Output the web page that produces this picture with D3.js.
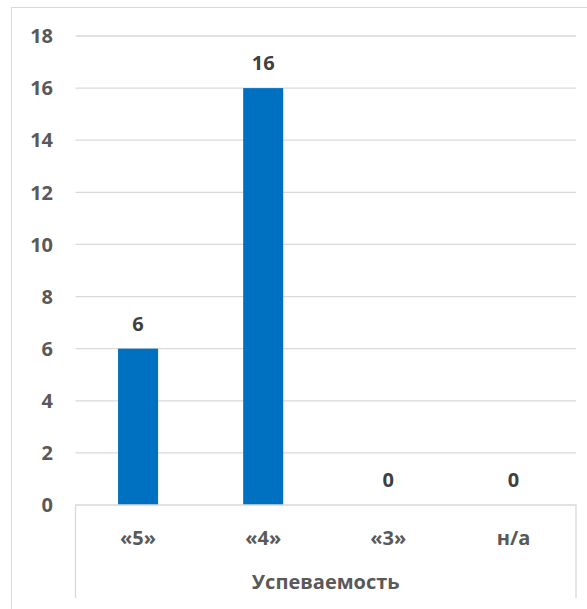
<!DOCTYPE html>
<html>
<head>
<meta charset="utf-8">
<script src="https://cdn.jsdelivr.net/npm/d3@7"></script>
<style>
  body { margin: 0; background: #fff; }
  svg text { font-family: "Open Sans", sans-serif; font-weight: bold; }
</style>
</head>
<body>
<div id="canvas"><svg></svg></div>
<script>
var categories = ["«5»", "«4»", "«3»", "н/а"];
var values = [6, 16, 0, 0];
var yTicks = [0, 2, 4, 6, 8, 10, 12, 14, 16, 18];
var groupLabel = "Успеваемость";

var width = 587,
    height = 609,
    plotLeft = 75.5,
    plotRight = 576,
    plotTop = 36,
    plotBottom = 505;

var svg = d3.select("#canvas svg")
    .attr("width", width)
    .attr("height", height);

// chart frame (runs off the window on the right and bottom)
svg.append("rect")
    .attr("x", 11.5).attr("y", 7.5)
    .attr("width", 600).attr("height", 620)
    .attr("fill", "#fff")
    .attr("stroke", "#d9d9d9");

var x = d3.scaleBand().domain(categories).range([plotLeft, plotRight]).paddingInner(0.68).paddingOuter(0.34);
var y = d3.scaleLinear().domain([0, 18]).range([plotBottom, plotTop]);

// gridlines
svg.selectAll(".grid")
    .data(yTicks.filter(function (d) {return d > 0;}))
    .enter().append("line")
    .attr("class", "grid")
    .attr("x1", plotLeft).attr("x2", plotRight)
    .attr("y1", function (d) {return y(d);})
    .attr("y2", function (d) {return y(d);})
    .attr("stroke", "#d9d9d9")
    .attr("stroke-width", 1.3);

// y labels
svg.selectAll(".ylab")
    .data(yTicks)
    .enter().append("text")
    .attr("class", "ylab")
    .attr("x", 53)
    .attr("y", function (d) {return y(d);})
    .attr("dy", "0.36em")
    .attr("text-anchor", "end")
    .attr("font-size", 20)
    .attr("fill", "#595959")
    .text(function (d) {return d;});

// bars
svg.selectAll(".bar")
    .data(values)
    .enter().append("rect")
    .attr("class", "bar")
    .attr("x", function (d, i) {return x(categories[i]);})
    .attr("width", x.bandwidth())
    .attr("y", function (d) {return y(d);})
    .attr("height", function (d) {return y(0) - y(d);})
    .attr("fill", "#0070c0");

// data labels
svg.selectAll(".vlab")
    .data(values)
    .enter().append("text")
    .attr("class", "vlab")
    .attr("x", function (d, i) {return x(categories[i]) + x.bandwidth() / 2;})
    .attr("y", function (d) {return y(d) - 18;})
    .attr("text-anchor", "middle")
    .attr("font-size", 20)
    .attr("fill", "#404040")
    .text(function (d) {return d;});

// multi-level category axis
var axisBottom = 598;
svg.append("path")
    .attr("d", "M" + plotLeft + "," + axisBottom + "V" + plotBottom + "H" + plotRight + "V" + axisBottom)
    .attr("fill", "none")
    .attr("stroke", "#d9d9d9")
    .attr("stroke-width", 1.3);

svg.selectAll(".xlab")
    .data(categories)
    .enter().append("text")
    .attr("class", "xlab")
    .attr("x", function (d) {return x(d) + x.bandwidth() / 2;})
    .attr("y", 545)
    .attr("text-anchor", "middle")
    .attr("font-size", 20)
    .attr("fill", "#595959")
    .text(function (d) {return d;});

svg.append("text")
    .attr("x", (plotLeft + plotRight) / 2)
    .attr("y", 589)
    .attr("text-anchor", "middle")
    .attr("font-size", 20)
    .attr("fill", "#595959")
    .text(groupLabel);
</script>
</body>
</html>
